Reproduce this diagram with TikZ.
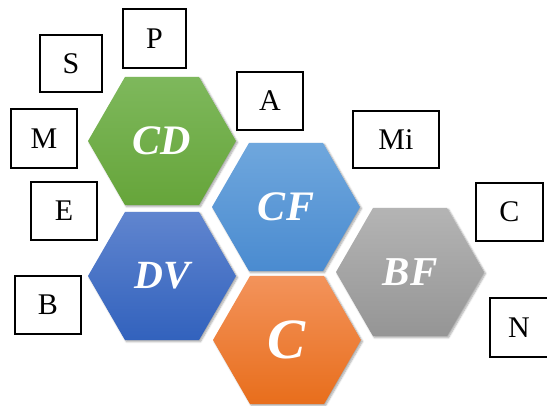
\documentclass[tikz,border=0pt]{standalone}
\usepackage{fontspec}
\setmainfont{Liberation Serif}
\usetikzlibrary{shapes.geometric,shadows.blur}
\definecolor{gtop}{HTML}{7EB85C}\definecolor{gbot}{HTML}{66A53A}
\definecolor{ftop}{HTML}{6FA7DD}\definecolor{fbot}{HTML}{4A8BD0}
\definecolor{dtop}{HTML}{6085CF}\definecolor{dbot}{HTML}{3262BD}
\definecolor{ctop}{HTML}{F3935B}\definecolor{cbot}{HTML}{E86E1C}
\definecolor{btop}{HTML}{B4B4B4}\definecolor{bbot}{HTML}{959595}
\begin{document}
\begin{tikzpicture}[x=1pt,y=-1pt,
  hexa/.style={regular polygon, regular polygon sides=6, minimum size=148pt,
    inner sep=0pt, text=white, font=\bfseries\itshape\fontsize{42}{42}\selectfont,
    blur shadow={shadow xshift=1.5pt, shadow yshift=-1.5pt, shadow blur steps=6, shadow opacity=35}},
  lbox/.style={draw=black, line width=1.8pt, fill=white, inner sep=0pt,
    font=\fontsize{30}{30}\selectfont}]
\useasboundingbox (0,0) rectangle (547,405);
\begin{scope}
\clip (0,0) rectangle (547,405);
\node[hexa, top color=gtop, bottom color=gbot] (cd) at (162,141) {CD};
\node[hexa, top color=dtop, bottom color=dbot, font=\bfseries\itshape\fontsize{40}{40}\selectfont] (dv) at (162,276) {DV};
\node[hexa, top color=ftop, bottom color=fbot] (cf) at (286,207) {CF};
\node[hexa, top color=ctop, bottom color=cbot, font=\bfseries\itshape\fontsize{57}{57}\selectfont] (c) at (287,340) {C};
\node[hexa, top color=btop, bottom color=bbot, font=\bfseries\itshape\fontsize{41}{41}\selectfont] (bf) at (410,272) {BF};

\node[lbox, minimum width=63pt, minimum height=59pt] (p) at (154.5,38.5) {P};
\node[lbox, minimum width=62pt, minimum height=57pt] (s) at (71,63.5) {S};
\node[lbox, minimum width=66pt, minimum height=58pt] (a) at (270,101) {A};
\node[lbox, minimum width=66pt, minimum height=59pt] (m) at (44,138.5) {M};
\node[lbox, minimum width=66pt, minimum height=58pt] (e) at (64,211) {E};
\node[lbox, minimum width=66pt, minimum height=58pt] (b) at (48,305) {B};
\node[lbox, minimum width=86pt, minimum height=57pt] (mi) at (396,139.5) {Mi};
\node[lbox, minimum width=67pt, minimum height=58pt] (cc) at (509.5,212) {C};
\node[lbox, minimum width=58pt, minimum height=59pt] (n) at (519,327.5) {N};
\end{scope}
\end{tikzpicture}
\end{document}
